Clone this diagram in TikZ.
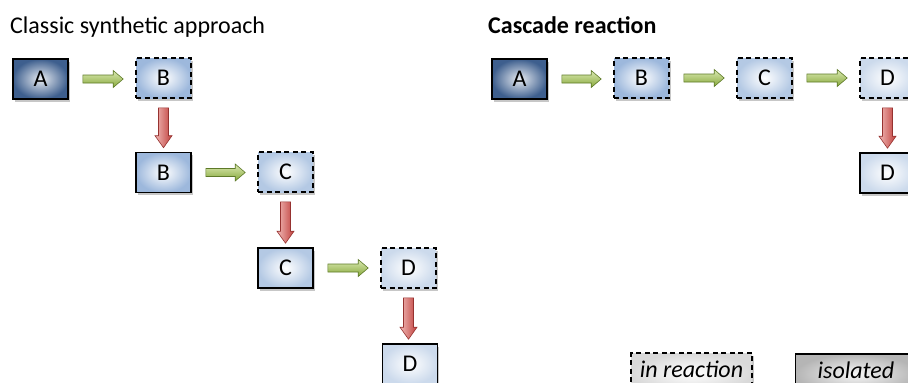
\documentclass[tikz,border=0pt]{standalone}
\usepackage{fontspec}
\setmainfont{Carlito}
\usetikzlibrary{calc,shadows}
\definecolor{aOut}{HTML}{3E5F8E}
\definecolor{bOut}{HTML}{9DB8DC}
\definecolor{cOut}{HTML}{B4C9E4}
\definecolor{dOut}{HTML}{CCDAEC}
\definecolor{gTop}{HTML}{DCEAB4}
\definecolor{gBot}{HTML}{86A83A}
\definecolor{gLine}{HTML}{5E7A28}
\definecolor{rLeft}{HTML}{F0B8B6}
\definecolor{rRight}{HTML}{C0403C}
\definecolor{rLine}{HTML}{963230}
\definecolor{lgOut}{HTML}{D9D9D9}
\definecolor{isoOut}{HTML}{B5B5B5}
\tikzset{
  box/.style={minimum width=55pt, minimum height=40pt, line width=1.6pt, draw=black,
    inner sep=0pt, font=\fontsize{24}{28}\selectfont,
    drop shadow={shadow xshift=1.5pt, shadow yshift=-2.5pt, opacity=0.22, fill=black}},
  dbox/.style={box, dash pattern=on 5pt off 3.5pt},
  aCol/.style={inner color=white!88!aOut, outer color=aOut},
  bCol/.style={inner color=white, outer color=bOut},
  cCol/.style={inner color=white, outer color=cOut},
  dCol/.style={inner color=white, outer color=dOut},
  title/.style={anchor=base west, inner sep=0pt, font=\fontsize{24}{28}\selectfont},
  legbox/.style={box, minimum width=121pt, text height=8pt, text depth=0pt,
    font=\fontsize{24}{28}\selectfont\itshape},
}
\newcommand\harr[2]{%
  \shade[top color=gTop, bottom color=gBot, draw=gLine, line width=0.6pt]
    ($(#1.east)+(14,-4)$) -- ($(#2.west |- #1.east)+(-22,-4)$) --
    ($(#2.west |- #1.east)+(-22,-8.5)$) -- ($(#2.west |- #1.east)+(-12,0)$) --
    ($(#2.west |- #1.east)+(-22,8.5)$) -- ($(#2.west |- #1.east)+(-22,4)$) --
    ($(#1.east)+(14,4)$) -- cycle;}
\newcommand\varr[2]{%
  \shade[left color=rLeft, right color=rRight, draw=rLine, line width=0.6pt]
    ($(#1.south)+(-5,9)$) -- ($(#1.south |- #2.north)+(-5,-16)$) --
    ($(#1.south |- #2.north)+(-8.5,-16)$) -- ($(#1.south |- #2.north)+(0,-4)$) --
    ($(#1.south |- #2.north)+(8.5,-16)$) -- ($(#1.south |- #2.north)+(5,-16)$) --
    ($(#1.south)+(5,9)$) -- cycle;}
\begin{document}
\begin{tikzpicture}[x=1pt, y=-1pt]
\useasboundingbox (0,0) rectangle (908,383);
\clip (0,0) rectangle (908,383);
\fill[white] (0,0) rectangle (908,383);
% titles
\node[title] (t1) at (10,33) {Classic synthetic approach};
\node[title, font=\fontsize{24}{28}\selectfont\bfseries] (t2) at (488,33) {Cascade reaction};
% left chain
\node[box, aCol] (A1) at (40.5,79) {A};
\node[dbox, bCol] (B1d) at (163.5,78) {B};
\node[box, bCol] (B1s) at (163.5,172.5) {B};
\node[dbox, cCol] (C1d) at (285.5,172) {C};
\node[box, cCol] (C1s) at (285.5,268) {C};
\node[dbox, dCol] (D1d) at (408.5,268) {D};
\node[box, dCol] (D1s) at (410,364) {D};
\harr{A1}{B1d}
\varr{B1d}{B1s}
\harr{B1s}{C1d}
\varr{C1d}{C1s}
\harr{C1s}{D1d}
\varr{D1d}{D1s}
% right chain
\node[box, aCol] (A2) at (519.5,79) {A};
\node[dbox, bCol] (B2) at (641.5,78) {B};
\node[dbox, cCol] (C2) at (764.5,78) {C};
\node[dbox, dCol] (D2d) at (887.5,78) {D};
\node[box, dCol] (D2s) at (887.5,173) {D};
\harr{A2}{B2}
\harr{B2}{C2}
\harr{C2}{D2d}
\varr{D2d}{D2s}
% legend
\node[legbox, dash pattern=on 5pt off 3.5pt, inner color=white, outer color=lgOut] (L1) at (691.5,373) {in reaction};
\node[legbox, inner color=white!90!isoOut, outer color=isoOut] (L2) at (856,374) {isolated};
\end{tikzpicture}
\end{document}
